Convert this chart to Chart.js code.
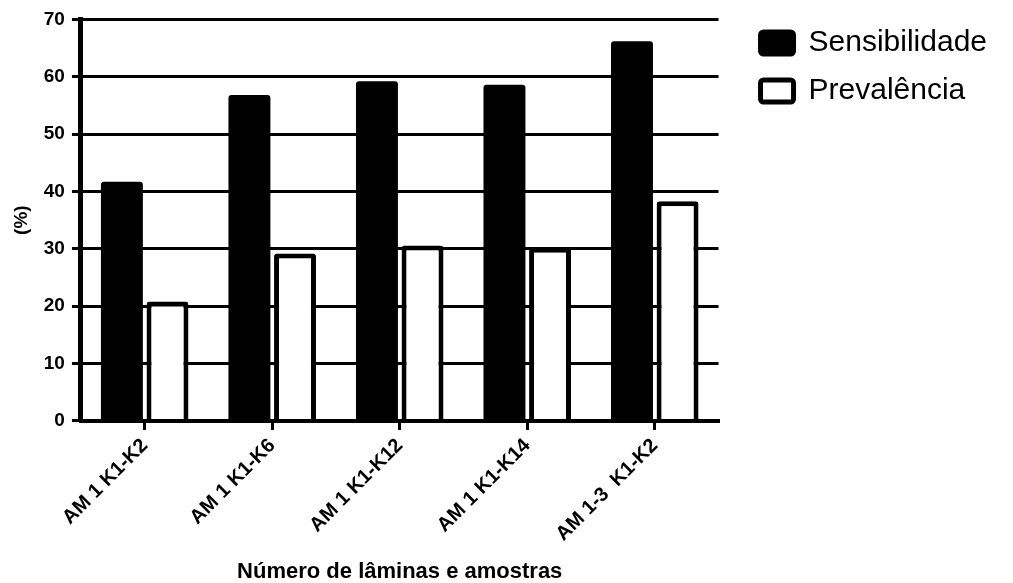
<!DOCTYPE html>
<html>
<head>
<meta charset="utf-8">
<script src="https://cdn.jsdelivr.net/npm/chart.js@4.4.1/dist/chart.umd.min.js"></script>
<style>
  html, body { margin: 0; padding: 0; background: #ffffff; }
  canvas { display: block; }
</style>
</head>
<body>
<canvas id="grafico" width="1013" height="583"></canvas>
<script>
// Lâminas / amostras avaliadas
const categories = ['AM 1 K1-K2', 'AM 1 K1-K6', 'AM 1 K1-K12', 'AM 1 K1-K14', 'AM 1-3  K1-K2'];
// Percentuais por grupo
const sensibilidade = [41.7, 56.8, 59.2, 58.6, 66.2];
const prevalencia = [20.8, 29.2, 30.6, 30.2, 38.3];
// Marcas do eixo Y (%)
const yTicks = [0, 10, 20, 30, 40, 50, 60, 70];

const FONT = "'Liberation Sans', Arial, Helvetica, sans-serif";
Chart.defaults.font.family = FONT;
Chart.defaults.color = '#000000';

// Caixas da legenda com o mesmo contorno preto espesso
const legendLabels = (chart) =>
  Chart.defaults.plugins.legend.labels.generateLabels(chart).map(item => ({
    ...item,
    lineWidth: 5,
    strokeStyle: '#000000'
  }));

new Chart(document.getElementById('grafico'), {
  type: 'bar',
  data: {
    labels: categories,
    datasets: [
      {
        label: 'Sensibilidade',
        data: sensibilidade,
        backgroundColor: '#000000',
        borderWidth: 0,
        borderRadius: 3
      },
      {
        label: 'Prevalência',
        data: prevalencia,
        backgroundColor: '#ffffff',
        borderColor: '#000000',
        borderWidth: 5,
        borderRadius: 3
      }
    ]
  },
  options: {
    responsive: false,
    animation: false,
    devicePixelRatio: 1,
    categoryPercentage: 0.715,
    barPercentage: 0.92,
    layout: { padding: { left: 4, right: 16, top: 10, bottom: 0 } },
    plugins: {
      tooltip: { enabled: false },
      legend: {
        position: 'right',
        align: 'start',
        maxWidth: 340,
        labels: {
          boxWidth: 33,
          boxHeight: 22,
          padding: 18,
          useBorderRadius: true,
          borderRadius: 3,
          color: '#000000',
          font: { size: 30, family: FONT },
          generateLabels: legendLabels
        }
      }
    },
    scales: {
      x: {
        grid: {
          offset: false,
          drawOnChartArea: false,
          drawTicks: true,
          tickLength: 9,
          lineWidth: 3,
          color: '#000000'
        },
        border: { display: true, width: 4, color: '#000000', z: 1 },
        ticks: {
          minRotation: 45,
          maxRotation: 45,
          padding: 4,
          color: '#000000',
          font: { size: 20, weight: 'bold' }
        },
        title: {
          display: true,
          text: 'Número de lâminas e amostras',
          color: '#000000',
          font: { size: 22, weight: 'bold', lineHeight: 1 },
          padding: { top: 11, bottom: 0 }
        }
      },
      y: {
        min: 0,
        max: 70,
        afterBuildTicks: (scale) => { scale.ticks = yTicks.map(v => ({ value: v })); },
        grid: {
          drawTicks: true,
          tickLength: 9,
          lineWidth: 3,
          color: '#000000'
        },
        border: { display: true, width: 5, color: '#000000', z: 1 },
        ticks: {
          padding: 7,
          color: '#000000',
          font: { size: 19, weight: 'bold', lineHeight: 1.3 }
        },
        title: {
          display: true,
          text: '(%)',
          color: '#000000',
          font: { size: 19, weight: 'bold' },
          padding: { top: 6, bottom: 4 }
        }
      },
      // Espaço entre a área do gráfico e a legenda
      gap: {
        type: 'linear',
        position: 'right',
        display: true,
        grid: { display: false },
        border: { display: false },
        ticks: { display: false },
        afterFit: (scale) => { scale.width = 24; }
      }
    }
  }
});
</script>
</body>
</html>
